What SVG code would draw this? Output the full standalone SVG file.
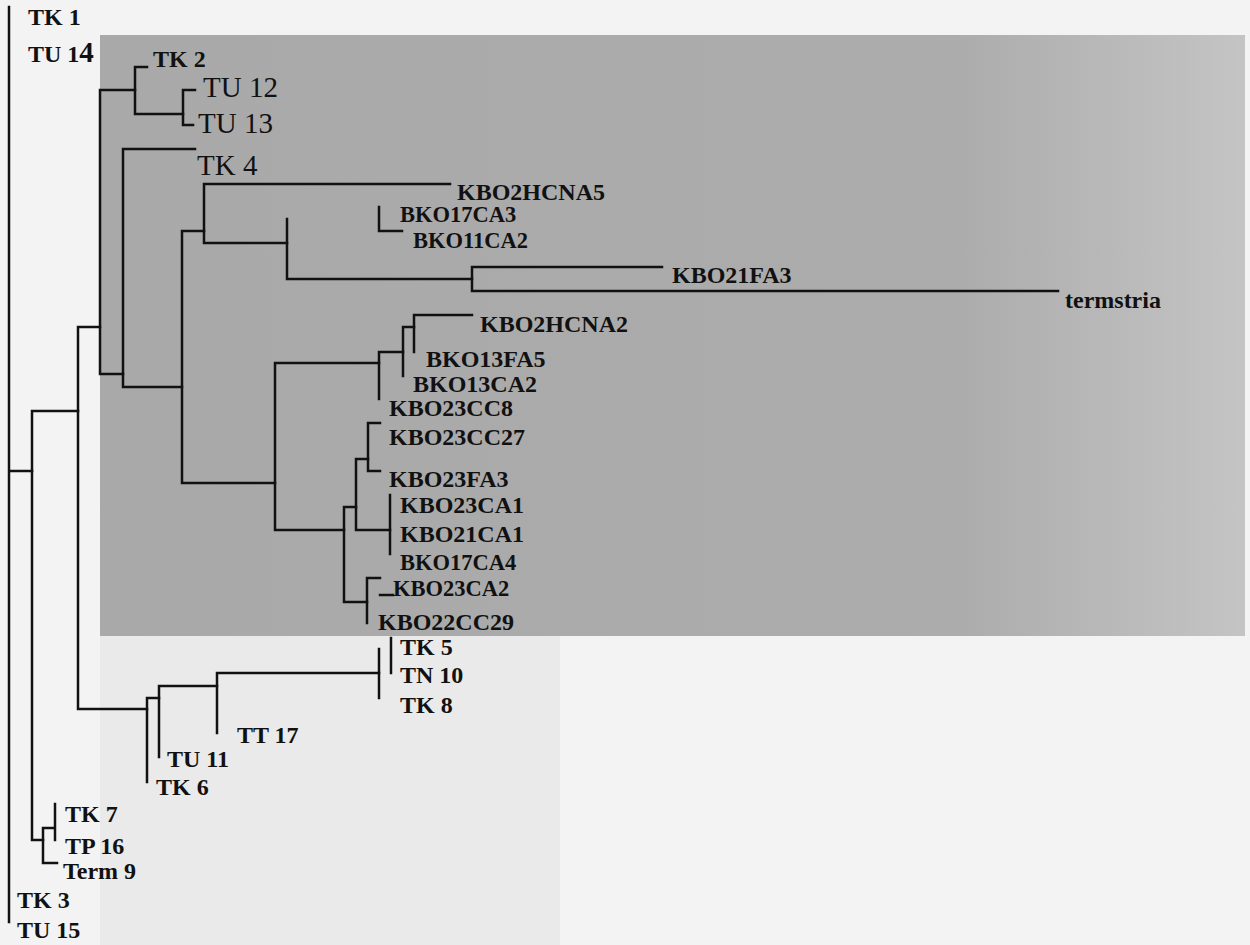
<svg xmlns="http://www.w3.org/2000/svg" width="1250" height="945" viewBox="0 0 1250 945">
<defs>
<linearGradient id="shade" x1="0" y1="0" x2="1" y2="0">
<stop offset="0" stop-color="#a9a9a9"/>
<stop offset="0.75" stop-color="#acacac"/>
<stop offset="1" stop-color="#c4c4c4"/>
</linearGradient>
<style>
.b{font-family:"Liberation Serif","Times New Roman",serif;font-weight:bold;font-size:24px;fill:#111}
.s{font-size:22.5px}
.r{font-family:"Liberation Serif","Times New Roman",serif;font-size:29px;fill:#111}
.e{stroke:#111;stroke-width:2.5;fill:none;stroke-linecap:square}
</style>
</defs>
<rect width="1250" height="945" fill="#f3f3f3"/>
<rect x="100" y="636" width="460" height="309" fill="#eaeaea"/>
<rect x="100" y="35" width="1145" height="601" fill="url(#shade)"/>
<g id="connectors" class="e">
<path d="M9,7V922M9,471H32"/>
<path d="M32,411V840M32,411H78M32,840H43"/>
<path d="M43,828V863M43,828H55M55,804V840M43,863H57"/>
<path d="M78,327V709M78,327H100M78,709H147"/>
<path d="M100,90V374M100,90H135M100,374H123"/>
<path d="M135,67V114M135,67H147M135,114H183"/>
<path d="M183,90V125M183,90H195M183,125H193"/>
<path d="M123,149V387M123,149H195M123,387H182"/>
<path d="M182,231V483M182,231H204M182,483H275"/>
<path d="M204,184V243M204,184H450M204,243H287"/>
<path d="M287,219V279M287,279H472"/>
<path d="M379,207V231M379,231H402"/>
<path d="M472,267V291M472,267H662M472,291H1058"/>
<path d="M275,363V530M275,363H379M275,530H344"/>
<path d="M379,352V399M379,352H403"/>
<path d="M403,327V376M403,327H414"/>
<path d="M414,315V352M414,315H472"/>
<path d="M344,507V602M344,507H356M344,602H367"/>
<path d="M356,459V530M356,459H368M356,530H390"/>
<path d="M368,423V471M368,423H380M368,471H380"/>
<path d="M390,495V554"/>
<path d="M367,578V623M367,578H380M380,595H393"/>
<path d="M147,698V782M147,698H159"/>
<path d="M159,686V757M159,686H217"/>
<path d="M217,673V733M217,673H379"/>
<path d="M379,649V698"/>
<path d="M391,638V673"/>
</g>
<g id="TK1"><text class="b" x="28" y="25">TK 1</text></g>
<g id="TU14"><text class="b" x="28" y="62">TU 1<tspan font-size="29">4</tspan></text></g>
<g id="TK2"><text class="b" x="153" y="67">TK 2</text></g>
<g id="TU12"><text class="r" x="203" y="97">TU 12</text></g>
<g id="TU13"><text class="r" x="198" y="133">TU 13</text></g>
<g id="TK4"><text class="r" x="197" y="175">TK 4</text></g>
<g id="KBO2HCNA5"><text class="b" x="457" y="200">KBO2HCNA5</text></g>
<g id="BKO17CA3"><text class="b s" x="400" y="222">BKO17CA3</text></g>
<g id="BKO11CA2"><text class="b s" x="413" y="248">BKO11CA2</text></g>
<g id="KBO21FA3"><text class="b" x="672" y="283">KBO21FA3</text></g>
<g id="termstria"><text class="b" x="1065" y="308" font-size="26">termstria</text></g>
<g id="KBO2HCNA2"><text class="b" x="480" y="332">KBO2HCNA2</text></g>
<g id="BKO13FA5"><text class="b" x="426" y="367">BKO13FA5</text></g>
<g id="BKO13CA2"><text class="b" x="413" y="392">BKO13CA2</text></g>
<g id="KBO23CC8"><text class="b" x="389" y="416">KBO23CC8</text></g>
<g id="KBO23CC27"><text class="b" x="389" y="445">KBO23CC27</text></g>
<g id="KBO23FA3"><text class="b" x="389" y="487">KBO23FA3</text></g>
<g id="KBO23CA1"><text class="b" x="400" y="513">KBO23CA1</text></g>
<g id="KBO21CA1"><text class="b" x="400" y="542">KBO21CA1</text></g>
<g id="BKO17CA4"><text class="b s" x="400" y="570">BKO17CA4</text></g>
<g id="KBO23CA2"><text class="b s" x="393" y="596">KBO23CA2</text></g>
<g id="KBO22CC29"><text class="b" x="378" y="630">KBO22CC29</text></g>
<g id="TK5"><text class="b" x="400" y="655">TK 5</text></g>
<g id="TN10"><text class="b" x="400" y="683">TN 10</text></g>
<g id="TK8"><text class="b" x="400" y="713">TK 8</text></g>
<g id="TT17"><text class="b" x="237" y="743">TT 17</text></g>
<g id="TU11"><text class="b" x="167" y="767">TU 11</text></g>
<g id="TK6"><text class="b" x="156" y="795">TK 6</text></g>
<g id="TK7"><text class="b" x="65" y="822">TK 7</text></g>
<g id="TP16"><text class="b" x="65" y="854" font-size="23">TP 16</text></g>
<g id="Term9"><text class="b" x="63" y="879" font-size="22">Term 9</text></g>
<g id="TK3"><text class="b" x="17" y="908">TK 3</text></g>
<g id="TU15"><text class="b" x="17" y="938">TU 15</text></g>
</svg>
